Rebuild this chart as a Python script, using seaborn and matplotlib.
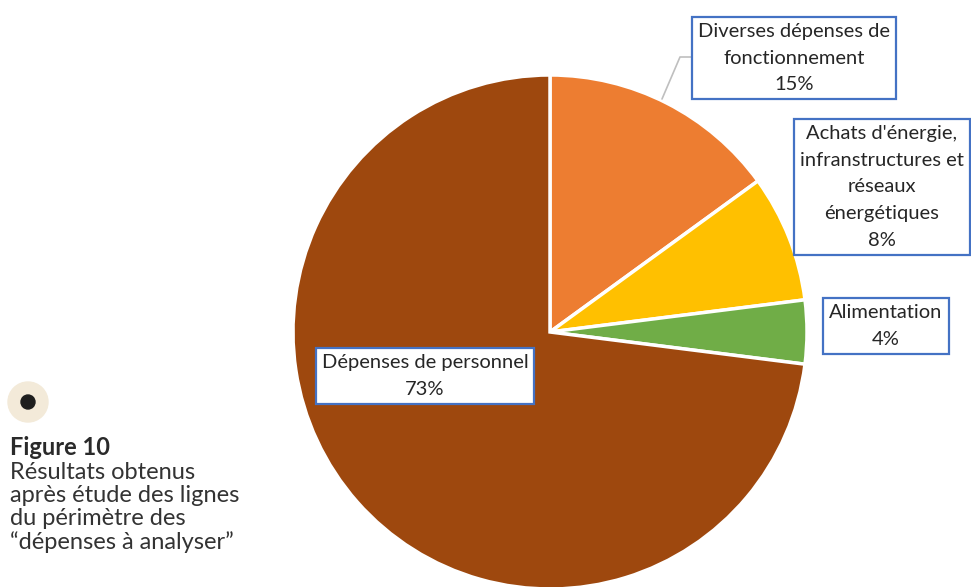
import matplotlib
matplotlib.use("Agg")
import matplotlib.pyplot as plt
import seaborn as sns
from matplotlib.patches import Circle

# --- données ---
categories = ["Diverses dépenses de\nfonctionnement",
              "Achats d'énergie,\ninfranstructures et\nréseaux\nénergétiques",
              "Alimentation",
              "Dépenses de personnel"]
shares = [15, 8, 4, 73]
colors = ["#ED7D31", "#FFC000", "#70AD47", "#9E480E"]

# position des étiquettes (pixels, origine en haut à gauche)
label_pos = [(794, 58), (882, 187), (886, 326), (425, 376)]

caption_title = "Figure 10"
caption_body = "Résultats obtenus\naprès étude des lignes\ndu périmètre des\n\u201cdépenses à analyser\u201d"

W, H = 971, 587

sns.set_theme(style="white")
plt.rcParams['font.family'] = ['Lato', 'DejaVu Sans']

fig = plt.figure(figsize=(W / 100, H / 100), dpi=100)
ax = fig.add_axes([0, 0, 1, 1])

# camembert (coord. pixels, y vers le haut)
cx, cy, r = 550, H - 332, 257
ax.pie(shares, colors=sns.color_palette(colors), startangle=90, counterclock=False,
       center=(cx, cy), radius=r,
       wedgeprops=dict(edgecolor="white", linewidth=2.5))

ax.set_xlim(0, W)
ax.set_ylim(0, H)
ax.set_aspect("equal")
ax.axis("off")

# ligne de rappel pour la première étiquette
ax.plot([691, 680, 662], [H - 57, H - 57, H - 99], color="#BFBFBF", lw=1.2, zorder=3)

for cat, val, (x, y) in zip(categories, shares, label_pos):
    ax.text(x, H - y, f"{cat}\n{val}%", ha="center", va="center",
            fontsize=14.5, color="#262626", linespacing=1.7, zorder=5,
            bbox=dict(boxstyle="square,pad=0.3", fc="white", ec="#4472C4", lw=1.6))

# pastille
ax.add_patch(Circle((28, H - 402), 20, color="#F3EAD9", zorder=4))
ax.add_patch(Circle((28, H - 402), 7, color="#1E1E1E", zorder=5))

ax.text(10, H - 436, caption_title, ha="left", va="top", fontsize=17,
        fontweight="bold", color="#2A2A2A")
ax.text(10, H - 462, caption_body, ha="left", va="top", fontsize=17,
        color="#333333", linespacing=1.12)

fig.savefig("out.png", dpi=100)
